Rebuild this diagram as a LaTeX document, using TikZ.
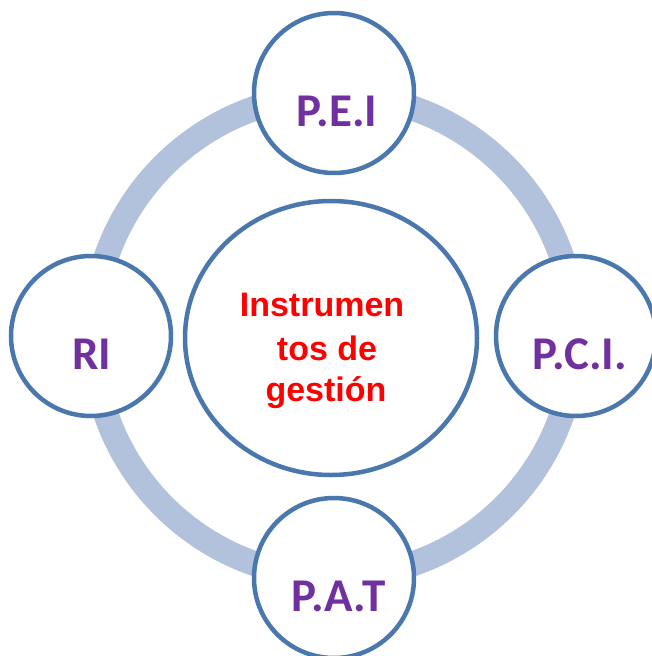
\documentclass[tikz,border=0pt]{standalone}
\usepackage{fontspec}
\newfontfamily\lblfont{Carlito}
\newfontfamily\ctrfont{Liberation Sans}
\definecolor{ringblue}{HTML}{B2C2DD}
\definecolor{edgeblue}{HTML}{4A77AE}
\definecolor{lblpurple}{HTML}{7030A0}
\tikzset{
  ringline/.style={draw=ringblue, line width=25pt},
  satcirc/.style={circle, draw=edgeblue, line width=4.5pt, fill=white, minimum size=160pt, inner sep=0pt},
  ctrell/.style={draw=edgeblue, line width=4.5pt, fill=white},
  lbl/.style={font=\lblfont\bfseries\fontsize{47}{52}\selectfont, text=lblpurple, anchor=base, inner sep=0pt},
  ctrtxt/.style={font=\ctrfont\bfseries\fontsize{34}{42}\selectfont, text=red, anchor=base, inner sep=0pt}
}
\begin{document}
\begin{tikzpicture}[x=1pt,y=-1pt]
\useasboundingbox[fill=white] (0,0) rectangle (652,656);
\coordinate (ringc) at (334,336);
\draw[ringline] (ringc) circle[radius=241];
\draw[ctrell] (331,338) ellipse[x radius=146, y radius=137];
\node[ctrtxt] (t1) at (322,316) {Instrumen};
\node[ctrtxt] (t2) at (327,360) {tos de};
\node[ctrtxt] (t3) at (326,401) {gestión};
\node[satcirc] (pei) at (334,93) {};
\node[satcirc] (pat) at (334,578) {};
\node[satcirc] (ri) at (91,336) {};
\node[satcirc] (pci) at (576,336) {};
\node[lbl] (lpei) at (337,126) {P.E.I};
\node[lbl] (lpat) at (339,611) {P.A.T};
\node[lbl] (lri) at (91.5,369) {RI};
\node[lbl] (lpci) at (580,369) {P.C.I.};
\end{tikzpicture}
\end{document}
